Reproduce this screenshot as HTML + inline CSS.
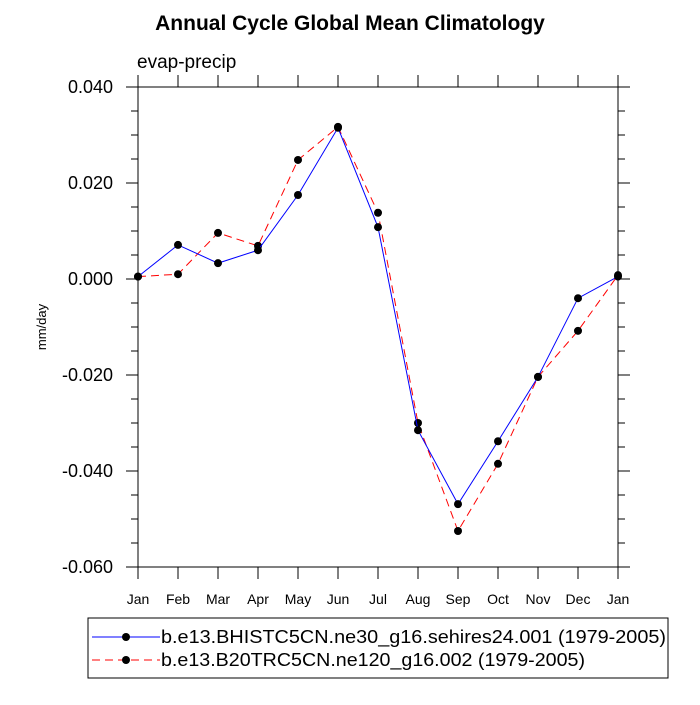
<!DOCTYPE html>
<html><head><meta charset="utf-8"><style>
body{margin:0;background:#fff}
svg text{font-family:"Liberation Sans",sans-serif}
</style></head><body>
<svg id="c" width="700" height="700" xmlns="http://www.w3.org/2000/svg">
<text x="350" y="30" text-anchor="middle" font-size="21" font-weight="bold">Annual Cycle Global Mean Climatology</text>
<text x="137" y="68" font-size="19">evap-precip</text>
<text transform="translate(46,327) rotate(-90)" text-anchor="middle" font-size="13">mm/day</text>
<rect x="138" y="87" width="480" height="480" fill="none" stroke="#000" stroke-width="1"/>
<g id="ax"></g><g id="series"></g>
<g>
<rect x="88" y="618" width="580" height="60" fill="#fff" stroke="#000"/>
<line x1="92" y1="637" x2="160" y2="637" stroke="#0000ff"/>
<circle cx="126" cy="637" r="4" fill="#000"/>
<text x="161" y="643" font-size="18" textLength="505" lengthAdjust="spacingAndGlyphs">b.e13.BHISTC5CN.ne30_g16.sehires24.001 (1979-2005)</text>
<line x1="92" y1="660" x2="160" y2="660" stroke="#ff0000" stroke-dasharray="8,5"/>
<circle cx="126" cy="660" r="4" fill="#000"/>
<text x="161" y="666" font-size="18" textLength="424" lengthAdjust="spacingAndGlyphs">b.e13.B20TRC5CN.ne120_g16.002 (1979-2005)</text>
</g>
</svg>
<script>
const months=["Jan","Feb","Mar","Apr","May","Jun","Jul","Aug","Sep","Oct","Nov","Dec","Jan"];
const yTicks=[0.04,0.02,0,-0.02,-0.04,-0.06];
const yTickLabels=["0.040","0.020","0.000","-0.020","-0.040","-0.060"];
const blueVals=[0.0005,0.0071,0.0033,0.006,0.0175,0.0315,0.0108,-0.0315,-0.0469,-0.0338,-0.0204,-0.004,0.0005];
const redVals=[0.0005,0.001,0.0096,0.0069,0.0248,0.0317,0.0138,-0.030,-0.0525,-0.0385,-0.0204,-0.0108,0.0008];
const X0=138,X1=618,Y0=87,Y1=567,YMAX=0.04,YMIN=-0.06;
const xs=i=>X0+(X1-X0)*i/(months.length-1);
const ys=v=>Y0+(YMAX-v)/(YMAX-YMIN)*(Y1-Y0);
const NS="http://www.w3.org/2000/svg";
function mk(tag,attrs,parent){const e=document.createElementNS(NS,tag);for(const k in attrs)e.setAttribute(k,attrs[k]);parent.appendChild(e);return e;}
const ax=document.getElementById('ax');
months.forEach((m,i)=>{
 const x=xs(i);
 const t=mk('line',{x1:x,y1:Y1,x2:x,y2:Y1+12,stroke:'#000'},ax);
 
 const t2=mk('line',{x1:x,y1:Y0,x2:x,y2:Y0-12,stroke:'#000'},ax);
 
 const l=mk('text',{x:x,y:Y1+37,'text-anchor':'middle','font-size':14},ax);l.textContent=m;
 
});
for(let v=YMIN;v<=YMAX+1e-9;v+=0.005){
 const y=ys(v);const major=Math.abs(Math.round(v/0.005))%4===0;const len=major?12:7;
 const a=mk('line',{x1:X0,y1:y,x2:X0-len,y2:y,stroke:'#000'},ax);
 
 const b=mk('line',{x1:X1,y1:y,x2:X1+len,y2:y,stroke:'#000'},ax);
 
}
yTicks.forEach((v,i)=>{
 const l=mk('text',{x:113,y:ys(v)+6,'text-anchor':'end','font-size':18},ax);l.textContent=yTickLabels[i];
 
});
const sg=document.getElementById('series');
function series(vals,color,dash,name){
 const p=mk('polyline',{points:vals.map((v,i)=>xs(i)+','+ys(v)).join(' '),fill:'none',stroke:color,'stroke-width':1,'stroke-dasharray':dash},sg);
 
 vals.forEach((v,i)=>{const c=mk('circle',{cx:xs(i),cy:ys(v),r:4,fill:'#000'},sg);
 });
}
series(redVals,'#ff0000','8,5','red-series');
series(blueVals,'#0000ff','none','blue-series');
</script>
</body></html>
